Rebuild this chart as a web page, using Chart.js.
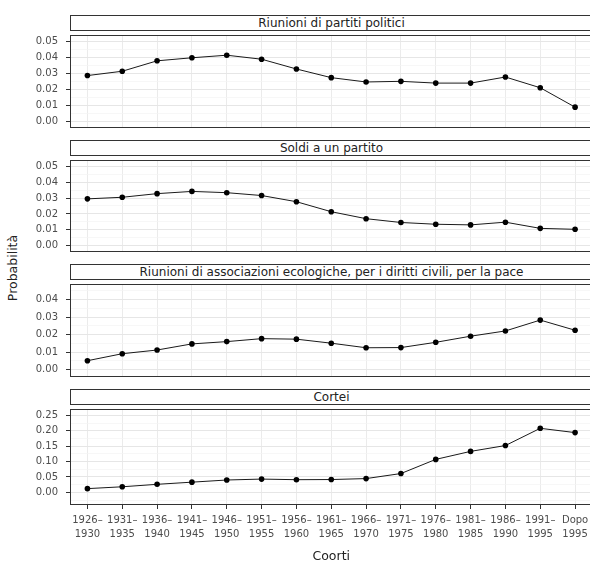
<!DOCTYPE html>
<html>
<head>
<meta charset="utf-8">
<script src="https://cdn.jsdelivr.net/npm/chart.js@4/dist/chart.umd.min.js"></script>
<style>
  body { margin: 0; width: 590px; height: 566px; overflow: hidden; position: relative; background: #fff; font-family: "DejaVu Sans", sans-serif; }
  canvas { position: absolute; left: 0; }
  .strip { position: absolute; left: 70px; width: 523px; height: 16px; box-sizing: border-box;
           border: 1px solid #333; background: #fff; text-align: center; font-size: 12px;
           line-height: 14px; color: #222; white-space: nowrap; }
  #ytitle { position: absolute; left: 12px; top: 268px; transform: translate(-50%, -50%) rotate(-90deg);
            font-size: 12.5px; color: #222; white-space: nowrap; }
</style>
</head>
<body>
<div id="ytitle">Probabilità</div>
<script>
var coorti = [
    ["1926–", "1930"], ["1931–", "1935"], ["1936–", "1940"], ["1941–", "1945"],
    ["1946–", "1950"], ["1951–", "1955"], ["1956–", "1960"], ["1961–", "1965"],
    ["1966–", "1970"], ["1971–", "1975"], ["1976–", "1980"], ["1981–", "1985"],
    ["1986–", "1990"], ["1991–", "1995"], ["Dopo", "1995"]
];

var titoli = [
    "Riunioni di partiti politici",
    "Soldi a un partito",
    "Riunioni di associazioni ecologiche, per i diritti civili, per la pace",
    "Cortei"
];

var partiti = [0.0287, 0.0314, 0.0379, 0.0398, 0.0414, 0.0389, 0.0328, 0.0274, 0.0247, 0.0251, 0.0240, 0.0240, 0.0278, 0.0211, 0.0090];
var soldi = [0.0295, 0.0305, 0.0328, 0.0342, 0.0334, 0.0316, 0.0277, 0.0214, 0.0170, 0.0146, 0.0135, 0.0131, 0.0148, 0.0109, 0.0103];
var associazioni = [0.0051, 0.0091, 0.0112, 0.0147, 0.0160, 0.0177, 0.0174, 0.0151, 0.0125, 0.0126, 0.0156, 0.0191, 0.0221, 0.0283, 0.0225];
var cortei = [0.012, 0.018, 0.026, 0.033, 0.040, 0.043, 0.041, 0.0415, 0.0446, 0.061, 0.107, 0.133, 0.152, 0.208, 0.194];

var serie = [partiti, soldi, associazioni, cortei];

// y range and tick steps of each panel (major, minor)
var yMin = [-0.004, -0.004, -0.0042, -0.0412];
var yMax = [0.054, 0.054, 0.0489, 0.2707];
var passoMaggiore = [0.01, 0.01, 0.01, 0.05];

// panel layout (page pixels)
var stripTop = [15, 140, 264, 389];
var plotTop = [31, 156, 280, 405];
var plotH = [101, 100, 101, 100];

Chart.defaults.font.family = "DejaVu Sans";
Chart.defaults.color = "#4d4d4d";

var panelBorder = {
    id: "panelBorder",
    afterDraw: function (chart) {
        var a = chart.chartArea;
        var ctx = chart.ctx;
        ctx.save();
        ctx.strokeStyle = "#333";
        ctx.lineWidth = 1;
        ctx.strokeRect(a.left + 0.5, a.top + 0.5, a.right - a.left - 1, a.bottom - a.top - 1);
        ctx.restore();
    }
};

function isMajor(v, i) {
    var m = Math.round(passoMaggiore[i] * 1000);
    return Math.round(v * 1000) % m === 0;
}

function panel(i) {
    var last = i === 3;
    var canvas = document.createElement("canvas");
    var top = plotTop[i] - 10;
    var h = last ? 566 - top : plotH[i] + 20;
    canvas.width = 600;
    canvas.height = h;
    canvas.style.top = top + "px";
    document.body.appendChild(canvas);

    var strip = document.createElement("div");
    strip.className = "strip";
    strip.style.top = stripTop[i] + "px";
    strip.textContent = titoli[i];
    document.body.appendChild(strip);

    new Chart(canvas, {
        type: "line",
        data: {
            labels: coorti,
            datasets: [{
                data: serie[i],
                borderColor: "#1a1a1a",
                borderWidth: 1,
                pointRadius: 2.8,
                pointBackgroundColor: "#000",
                pointBorderWidth: 0,
                tension: 0
            }]
        },
        options: {
            responsive: false,
            animation: false,
            layout: { padding: { top: 10, bottom: last ? 0 : 10, left: 0, right: 7.5 } },
            plugins: { legend: { display: false }, tooltip: { enabled: false } },
            scales: {
                x: {
                    offset: true,
                    border: { display: false },
                    grid: {
                        offset: false,
                        color: "#ebebeb",
                        lineWidth: 1,
                        drawTicks: last,
                        tickLength: 4,
                        tickColor: "#333"
                    },
                    ticks: {
                        display: last,
                        autoSkip: false,
                        maxRotation: 0,
                        minRotation: 0,
                        padding: 4,
                        font: { size: 10, lineHeight: 1.43 },
                        color: "#4d4d4d"
                    },
                    title: {
                        display: last,
                        text: "Coorti",
                        color: "#222",
                        font: { size: 12.5, lineHeight: 1.2 },
                        padding: { top: 4, bottom: 1.5 }
                    },
                    afterFit: function (s) { s.height = last ? 566 - top - 10 - plotH[i] : 0; }
                },
                y: {
                    min: yMin[i],
                    max: yMax[i],
                    border: { display: false },
                    grid: {
                        color: function (c) { return c.tick && isMajor(c.tick.value, i) ? "#e6e6e6" : "#f3f3f3"; },
                        lineWidth: function (c) { return c.tick && isMajor(c.tick.value, i) ? 1 : 0.7; },
                        tickColor: function (c) { return c.tick && isMajor(c.tick.value, i) ? "#333" : "rgba(0,0,0,0)"; },
                        tickLength: 4
                    },
                    ticks: {
                        stepSize: passoMaggiore[i] / 2,
                        includeBounds: false,
                        autoSkip: false,
                        padding: 8,
                        font: { size: 10 },
                        color: "#4d4d4d",
                        callback: function (v) { return isMajor(v, i) ? v.toFixed(2) : ""; }
                    },
                    afterFit: function (s) { s.width = 70; }
                }
            }
        },
        plugins: [panelBorder]
    });
}

for (var i = 0; i < 4; i++) {
    panel(i);
}
</script>
</body>
</html>
